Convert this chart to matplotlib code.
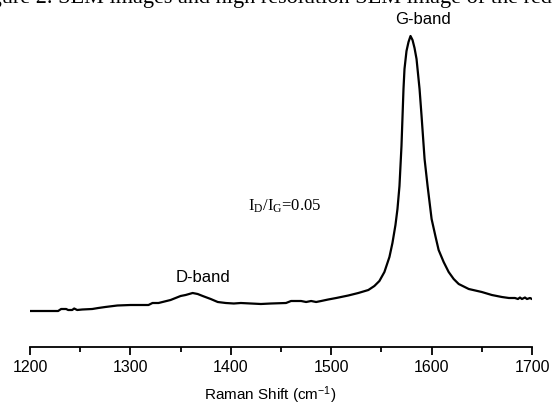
import matplotlib
matplotlib.use("Agg")
import matplotlib.pyplot as plt

# Raman spectrum (arbitrary intensity units)
raman_shift = [1200, 1228, 1231, 1236, 1238, 1242, 1244, 1247, 1252, 1262,
               1268, 1275, 1283, 1287, 1300, 1318, 1322, 1328, 1332, 1340,
               1345, 1350, 1355, 1362, 1367, 1372, 1380, 1387, 1395, 1403,
               1410, 1420, 1430, 1440, 1455, 1460, 1470, 1475, 1480, 1485,
               1490, 1497, 1505, 1517, 1527, 1537, 1543, 1548, 1553, 1558,
               1561, 1564, 1566, 1568, 1570, 1572, 1573, 1575, 1577, 1579,
               1581, 1583, 1585, 1588, 1590, 1593, 1596, 1600, 1604, 1607,
               1612, 1617, 1622, 1627, 1637, 1650, 1660, 1670, 1677, 1683,
               1686, 1688, 1690, 1693, 1695, 1698, 1700]
intensity = [36, 36, 38, 38, 37, 37, 38.5, 37, 37.5, 38,
             39, 40, 41, 41.5, 42, 42, 44, 44, 45, 47,
             49, 51, 52, 54, 53, 51, 48, 45, 44, 43.5,
             44, 43.5, 43, 43.5, 44, 46, 46, 45, 46, 45,
             46, 47.5, 49, 51.5, 54, 57, 61, 66, 75, 90,
             104, 122, 138, 161, 201, 258, 278, 296, 305, 311,
             307, 299, 288, 258, 231, 188, 161, 128, 110, 97,
             85, 75, 68, 63, 58, 55, 52, 50, 49, 49,
             48, 49.5, 48, 49.5, 48, 49, 48]

x_ticks = [1200, 1300, 1400, 1500, 1600, 1700]
caption = "Figure 2. SEM images and high resolution SEM image of the reduced graphene"

plt.rcParams["mathtext.default"] = "regular"

fig = plt.figure(figsize=(5.53, 4.06), dpi=100)
ax = fig.add_axes([30 / 553, 58 / 406, 502 / 553, 348 / 406])

ax.plot(raman_shift, intensity, color="black", linewidth=1.6)

ax.set_xlim(1200, 1700)
ax.set_ylim(0, 348)
ax.set_xticks(x_ticks)
ax.set_xticks(range(1250, 1700, 100), minor=True)
ax.set_yticks([])
for s in ["top", "left", "right"]:
    ax.spines[s].set_visible(False)
ax.spines["bottom"].set_linewidth(1.3)
ax.tick_params(axis="x", which="major", direction="out", length=6, width=1.3,
               labelsize=11.5, pad=3)
ax.tick_params(axis="x", which="minor", direction="out", length=3.5, width=1.3)
for lbl in ax.get_xticklabels():
    lbl.set_family("Liberation Sans")
ax.set_xlabel("Raman Shift (cm$^{-1}$)", fontsize=11, family="Liberation Sans")
ax.xaxis.set_label_coords(0.478, -36 / 348)

# annotations
ax.text(1591, 329, "G-band", ha="center", va="center", fontsize=12,
        family="Liberation Sans")
ax.text(1372, 70, "D-band", ha="center", va="center", fontsize=12,
        family="Liberation Sans")
ax.text(1417, 142, "I$_D$/I$_G$=0.05", ha="left", va="center", fontsize=12,
        family="Liberation Serif")

# cropped caption from the source page (only its lower part shows)
fig.text(-0.05, 1 - 3 / 406, caption, ha="left", va="baseline",
         fontsize=16, family="Liberation Serif")

fig.savefig("out.png", dpi=100)
